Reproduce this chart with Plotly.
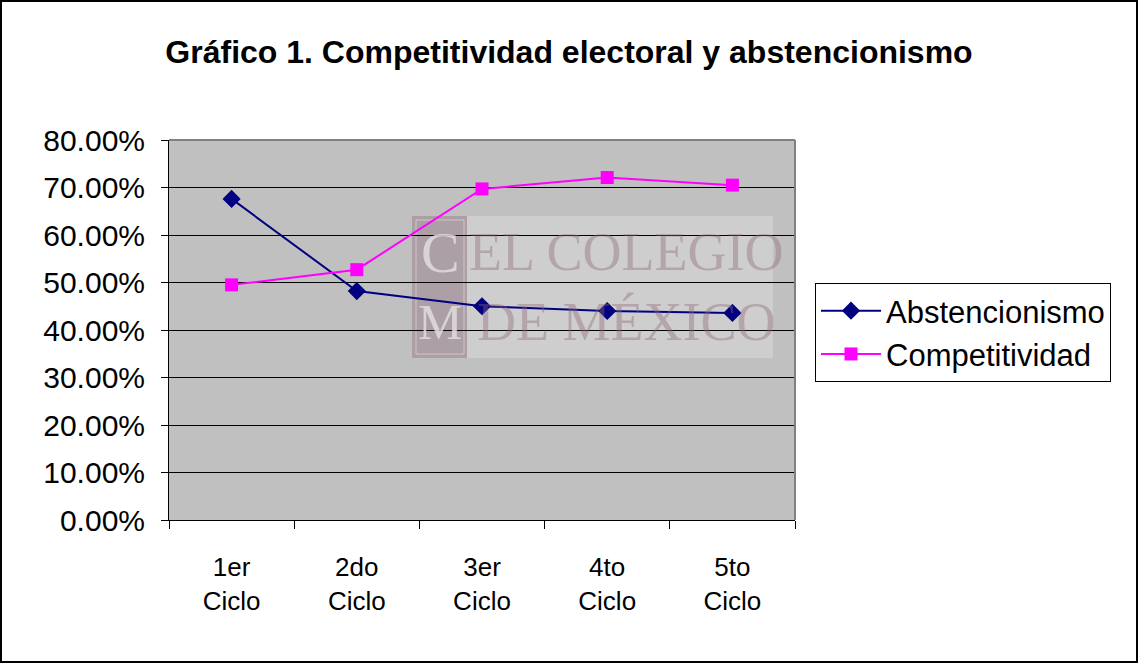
import plotly.graph_objects as go

categories = ["1er<br>Ciclo", "2do<br>Ciclo", "3er<br>Ciclo", "4to<br>Ciclo", "5to<br>Ciclo"]
abstencionismo = [0.676, 0.482, 0.450, 0.440, 0.436]
competitividad = [0.495, 0.527, 0.697, 0.721, 0.705]
y_ticks = [0, 0.1, 0.2, 0.3, 0.4, 0.5, 0.6, 0.7, 0.8]

W, H = 1138, 663
L, R, T, B = 169, 795, 140, 520
pw, ph = R - L, B - T

def px(x):
    return (x - L) / pw

def py(y):
    return (B - y) / ph

fig = go.Figure()
fig.add_trace(go.Scatter(
    x=categories, y=abstencionismo, name="Abstencionismo", mode="lines+markers",
    line=dict(color="#000080", width=2),
    marker=dict(symbol="diamond", size=14, color="#000080"),
))
fig.add_trace(go.Scatter(
    x=categories, y=competitividad, name="Competitividad", mode="lines+markers",
    line=dict(color="#FF00FF", width=2),
    marker=dict(symbol="square", size=13, color="#FF00FF"),
))

shapes = [
    # watermark
    dict(type="rect", xref="paper", yref="paper", x0=px(412), x1=px(773), y0=py(358), y1=py(216),
         fillcolor="rgba(225,225,225,0.45)", line=dict(width=0), layer="below"),
    dict(type="rect", xref="paper", yref="paper", x0=px(412), x1=px(467), y0=py(358), y1=py(216),
         fillcolor="rgba(160,140,150,0.7)", line=dict(width=0), layer="below"),
    dict(type="rect", xref="paper", yref="paper", x0=px(416), x1=px(464), y0=py(354), y1=py(220),
         fillcolor="rgba(0,0,0,0)", line=dict(width=1, color="rgba(215,205,210,0.8)"), layer="below"),
    # plot area border top/right
    dict(type="line", xref="paper", yref="paper", x0=0, x1=1, y0=1, y1=1,
         line=dict(color="#808080", width=2)),
    dict(type="line", xref="paper", yref="paper", x0=1, x1=1, y0=0, y1=1,
         line=dict(color="#808080", width=2)),
    # outer frame
    dict(type="rect", xref="paper", yref="paper", x0=px(1), x1=px(W - 1), y0=py(H - 1), y1=py(1),
         line=dict(color="black", width=2), fillcolor="rgba(0,0,0,0)"),
]

wm_color = "rgba(140,105,120,0.4)"
letter_color = "rgba(225,218,222,0.85)"
annotations = [
    dict(text="C", xref="paper", yref="paper", x=px(440), y=py(252), xanchor="center", yanchor="middle",
         showarrow=False, font=dict(family="Liberation Serif", size=58, color=letter_color)),
    dict(text="M", xref="paper", yref="paper", x=px(440), y=py(322), xanchor="center", yanchor="middle",
         showarrow=False, font=dict(family="Liberation Serif", size=50, color=letter_color)),
    dict(text="EL COLEGIO", xref="paper", yref="paper", x=px(626), y=py(252), xanchor="center", yanchor="middle",
         showarrow=False, font=dict(family="Liberation Serif", size=54, color=wm_color)),
    dict(text="DE MÉXICO", xref="paper", yref="paper", x=px(626), y=py(322), xanchor="center", yanchor="middle",
         showarrow=False, font=dict(family="Liberation Serif", size=54, color=wm_color)),
]

fig.update_layout(
    width=W, height=H,
    margin=dict(l=L, r=W - R, t=T, b=H - B, pad=0),
    paper_bgcolor="white", plot_bgcolor="#C0C0C0",
    font=dict(family="Liberation Sans, Arial", color="black"),
    title=dict(text="<b>Gráfico 1. Competitividad electoral y abstencionismo</b>",
               x=0.5, xanchor="center", y=1 - 52 / H, yanchor="middle",
               font=dict(size=32, color="black")),
    showlegend=True,
    legend=dict(x=px(815), y=py(283), xanchor="left", yanchor="top",
                bgcolor="white", bordercolor="black", borderwidth=1,
                font=dict(size=31), tracegroupgap=0, itemwidth=60),
    shapes=shapes, annotations=annotations,
)
fig.update_xaxes(
    type="category", range=[-0.5, 4.5], showline=True, linecolor="black", linewidth=1,
    ticks="outside", ticklen=8, tickcolor="black", tickson="boundaries",
    showgrid=False, tickfont=dict(size=26), ticklabelstandoff=24,
)
fig.update_yaxes(
    range=[0, 0.8], tickvals=y_ticks, tickformat=".2%", showline=True, linecolor="black",
    linewidth=1, ticks="outside", ticklen=7, tickcolor="black",
    showgrid=True, gridcolor="black", gridwidth=1, zeroline=False,
    tickfont=dict(size=30), ticklabelstandoff=10,
)

fig.write_html("out.html", config={"displayModeBar": False},
               post_script="document.body.style.margin='0';")
